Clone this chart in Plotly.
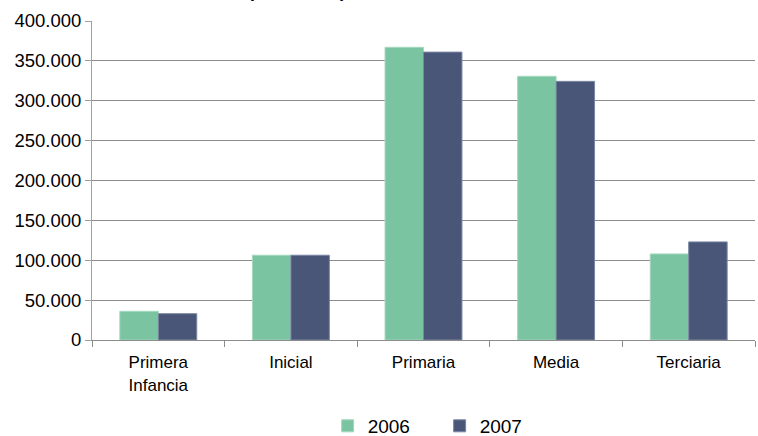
import plotly.graph_objects as go

categories = ["Primera<br>Infancia", "Inicial", "Primaria", "Media", "Terciaria"]
values_2006 = [36000, 106300, 367000, 330600, 107900]
values_2007 = [33000, 106300, 361000, 324300, 123000]
series_names = ["2006", "2007"]
y_ticks = [0, 50000, 100000, 150000, 200000, 250000, 300000, 350000, 400000]
title_text = "Matrícula total (2006-2007)"

fig = go.Figure()
fig.add_trace(go.Bar(
    x=categories, y=values_2006, name=series_names[0],
    marker=dict(color="#7BC4A1", line=dict(color="#A3D8BD", width=1)),
))
fig.add_trace(go.Bar(
    x=categories, y=values_2007, name=series_names[1],
    marker=dict(color="#4A5677", line=dict(color="#7A86A3", width=1)),
))

fig.add_annotation(
    text="<b>" + title_text + "</b>", xref="paper", yref="paper",
    x=0.386, y=1, xanchor="right", yanchor="bottom", yshift=18,
    showarrow=False, font=dict(size=18, color="#000000"),
)

fig.update_layout(
    width=758, height=436,
    margin=dict(l=92, r=3, t=21, b=96),
    paper_bgcolor="white", plot_bgcolor="white",
    font=dict(family="Liberation Sans, Arial, sans-serif", size=17, color="#000000"),
    separators=",.",
    barmode="group", bargap=0.42, bargroupgap=0,
    showlegend=True,
    legend=dict(orientation="h", xref="container", yref="container",
                x=0.58, xanchor="center", y=0.023, yanchor="middle",
                font=dict(size=19), entrywidth=67, entrywidthmode="pixels",
                traceorder="normal"),
    xaxis=dict(
        showgrid=False, showline=True, linecolor="#8C8C8C", linewidth=1,
        ticks="outside", tickson="boundaries", ticklen=6, tickcolor="#8C8C8C",
        tickfont=dict(size=17), ticklabelstandoff=7,
    ),
    yaxis=dict(
        range=[0, 400000], tickvals=y_ticks, tickformat=",.0f",
        showgrid=True, gridcolor="#8C8C8C", gridwidth=1,
        showline=True, linecolor="#A0A0A0", linewidth=1,
        ticks="outside", ticklen=6, tickcolor="#A0A0A0",
        tickfont=dict(size=18.5), zeroline=False,
    ),
)

fig.write_html(
    "out.html",
    config={"displayModeBar": False},
    post_script="document.body.style.margin='0';document.body.style.padding='0';document.body.style.overflow='hidden';",
)
